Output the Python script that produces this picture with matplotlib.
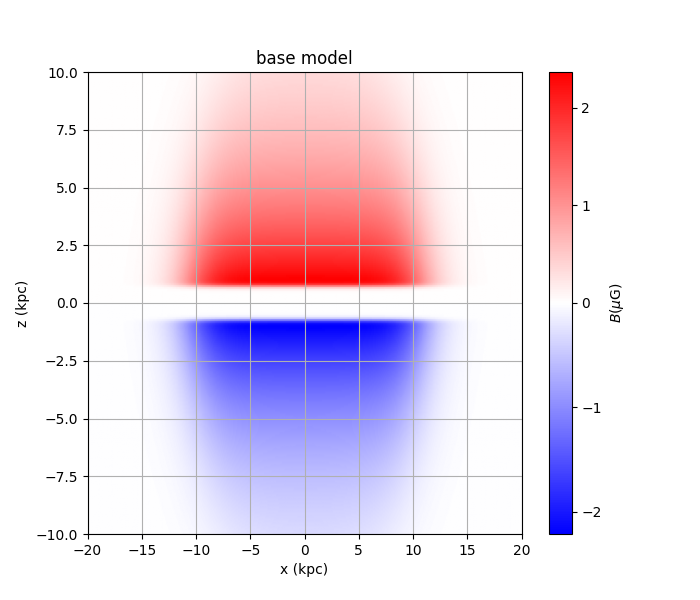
import numpy as np
import matplotlib
matplotlib.use("Agg")
import matplotlib.pyplot as plt
from matplotlib.colors import TwoSlopeNorm

# ===== MODEL PARAMETERS =====
b_north = 2.96      # muG, amplitude above the plane
b_south = -2.77     # muG, amplitude below the plane
z_scale = 4.8       # kpc, exponential scale height
h_disk = 0.75       # kpc, inner (disk) cut-off height
w_disk = 0.12       # kpc, width of the disk cut-off
r_inner = 10.5      # kpc, radius of the main halo body
w_inner = 2.6       # kpc, softness of that edge
z_squash = 0.7      # vertical squeeze of the inner edge
r_outer = 18.5      # kpc, spherical outer cut-off
w_outer = 1.0       # kpc

x_range = [-20, 20]
z_range = [-10, 10]
n_x, n_z = 400, 230
cbar_ticks = [-2, -1, 0, 1, 2]


def logistic(v, h, w):
    return 1.0 / (1.0 + np.exp(-2.0 * (v - h) / w))


# ===== FIELD =====
x = np.linspace(x_range[0], x_range[1], n_x)
z = np.linspace(z_range[0], z_range[1], n_z)
X, Z = np.meshgrid(x, z)
az = np.abs(Z)
r_e = np.sqrt(X**2 + (z_squash * Z)**2)
r_sph = np.sqrt(X**2 + Z**2)

shape = (np.exp(-az / z_scale) * logistic(az, h_disk, w_disk)
         * (1 - logistic(r_e, r_inner, w_inner))
         * (1 - logistic(r_sph, r_outer, w_outer)))
B = np.where(Z > 0, b_north, b_south) * shape

# ===== PLOT =====
fig, ax = plt.subplots(figsize=(7, 6), dpi=100)
norm = TwoSlopeNorm(vcenter=0, vmin=B.min(), vmax=B.max())
im = ax.imshow(B, origin='lower', extent=[x_range[0], x_range[1], z_range[0], z_range[1]],
               aspect='auto', cmap='bwr', norm=norm)
cb = fig.colorbar(im, ax=ax, ticks=cbar_ticks)
cb.set_label(r'$B(\mu$G)')
ax.grid(True)
ax.set_title('base model')
ax.set_xlabel('x (kpc)')
ax.set_ylabel('z (kpc)')
fig.savefig('out.png')
